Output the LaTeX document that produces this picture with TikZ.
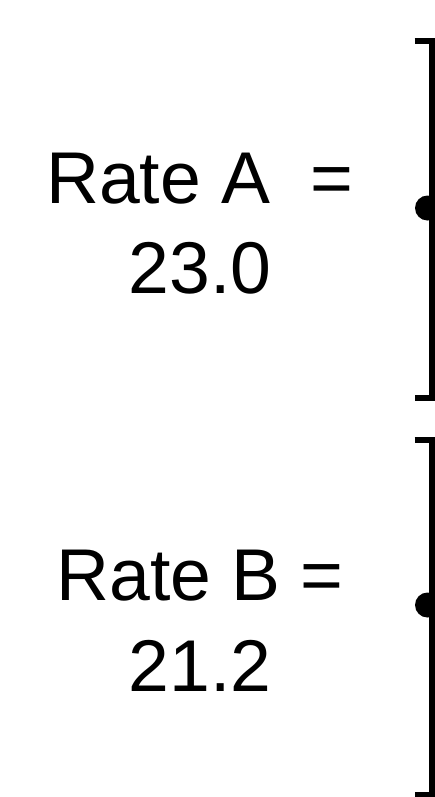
\documentclass[tikz,border=0pt]{standalone}
\usepackage{fontspec}
\setmainfont{Liberation Sans}
\usetikzlibrary{calc}
\definecolor{inkblack}{HTML}{000000}

\begin{document}
\begin{tikzpicture}[
    x=0.75pt, y=-0.75pt,
    every node/.style={text=inkblack},
    ratelabel/.style={font=\fontsize{55}{68}\selectfont, align=center, inner sep=0pt},
    bracket/.style={draw=inkblack, line width=4.5pt, line join=miter},
  ]

  % Frame (pixel units, origin top left)
  \useasboundingbox (0,0) rectangle (435,797);

  % === Bracket A ===
  \coordinate (atop) at (431.5,41);
  \coordinate (abot) at (431.5,398);
  \coordinate (adot) at (427.5,208);
  \draw[bracket] ($(atop)+(-17,0)$) -- (atop) -- (abot) -- ++(-17,0);
  \fill[inkblack] (adot) circle[radius=12.5];

  % === Bracket B ===
  \coordinate (btop) at (431.5,440);
  \coordinate (bbot) at (431.5,795);
  \coordinate (bdot) at (427.5,605);
  \draw[bracket] ($(btop)+(-17,0)$) -- (btop) -- (bbot) -- ++(-17,0);
  \fill[inkblack] (bdot) circle[radius=12.5];

  % === Labels ===
  \node[ratelabel] (ratea) at (200,223.5) {Rate A\ \ =\\23.0};
  \node[ratelabel] (rateb) at (200,621) {Rate B =\\21.2};

\end{tikzpicture}
\end{document}
